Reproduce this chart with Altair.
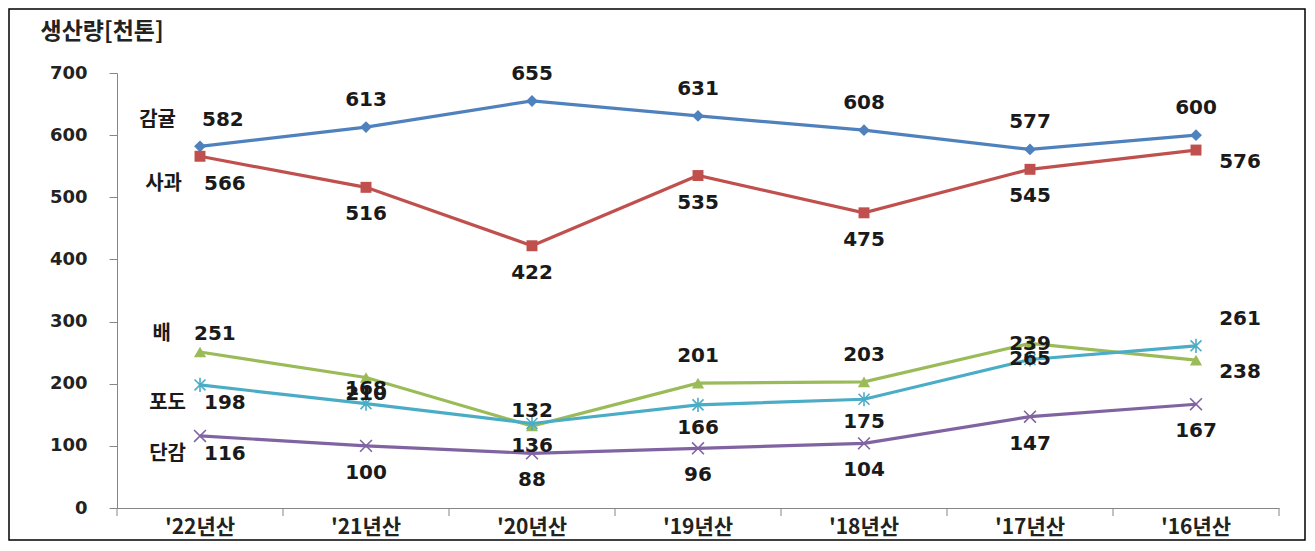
import altair as alt
import pandas as pd

cats = ["'22년산", "'21년산", "'20년산", "'19년산", "'18년산", "'17년산", "'16년산"]
series = ["감귤", "사과", "배", "포도", "단감"]
v_gam = [582, 613, 655, 631, 608, 577, 600]
v_sa = [566, 516, 422, 535, 475, 545, 576]
v_bae = [251, 210, 132, 201, 203, 265, 238]
v_podo = [198, 168, 136, 166, 175, 239, 261]
v_dan = [116, 100, 88, 96, 104, 147, 167]
values = [v_gam, v_sa, v_bae, v_podo, v_dan]
y_ticks = [0, 100, 200, 300, 400, 500, 600, 700]

# label placement codes per point
place = [
    ["FU", "U", "U", "U", "U", "U", "U"],
    ["FD", "D", "D", "D", "D", "D", "RD"],
    ["Fu", "d", "u", "U", "U", "d", "RD"],
    ["Fd", "u", "dd", "dd", "dd", "u", "RU"],
    ["Fd", "D", "D", "D", "D", "D", "D"],
]
colors = ["#4F81BD", "#C0504D", "#9BBB59", "#4BACC6", "#8064A2"]

# code: (dx, dy, align, name_dx)
OFF = {
    "U": (0, -27, "center", 0),
    "D": (0, 27, "center", 0),
    "u": (0, -15, "center", 0),
    "d": (0, 16, "center", 0),
    "dd": (0, 23, "center", 0),
    "RD": (44, 12, "center", 0),
    "RU": (44, -27, "center", 0),
    "FU": (2, -26, "left", -24),
    "FD": (4, 28, "left", -18),
    "Fu": (-6, -18, "left", -29),
    "Fd": (4, 18, "left", -14),
}

rows = []
for s, vals, pl in zip(series, values, place):
    for c, v, p in zip(cats, vals, pl):
        rows.append({"series": s, "cat": c, "value": v, "code": p, "label": str(v)})
df = pd.DataFrame(rows)
tick_df = pd.DataFrame({"cat": cats})

W, H = 1162, 435
GRAY = "#868686"
NUMFONT = "DejaVu Sans, Noto Sans CJK KR"
KFONT = "Noto Sans CJK KR"

xscale = alt.Scale(type="band", domain=cats, paddingInner=0, paddingOuter=0)
yscale = alt.Scale(domain=[0, 700], nice=False)
x_axis = alt.Axis(ticks=False, domainColor=GRAY, labelFont=KFONT, labelFontSize=21,
                  labelFontWeight="bold", labelPadding=8, labelAngle=0, grid=False,
                  labelColor="#222222", title=None)
y_axis = alt.Axis(values=y_ticks, tickSize=8, tickColor=GRAY, domainColor=GRAY,
                  labelPadding=22, labelFont=NUMFONT, labelFontSize=18,
                  labelFontWeight="bold", labelColor="#222222", grid=False,
                  title="생산량[천톤]", titleAngle=0, titleAlign="left",
                  titleBaseline="middle", titleX=-77, titleY=-42, titleFont=KFONT,
                  titleFontSize=23, titleFontWeight="bold", titleColor="#222222")

X = alt.X("cat:N", sort=cats, scale=xscale, axis=x_axis)
Y = alt.Y("value:Q", scale=yscale, axis=y_axis)

layers = []
# frame
layers.append(
    alt.Chart(pd.DataFrame({"a": [0]})).mark_rect(filled=False, stroke="black", strokeWidth=1.5)
    .encode(x=alt.value(-108), x2=alt.value(1188), y=alt.value(-64), y2=alt.value(467))
)
# x ticks at band edges
layers.append(
    alt.Chart(tick_df).mark_rule(color=GRAY, strokeWidth=1)
    .encode(x=alt.X("cat:N", sort=cats, scale=xscale, axis=x_axis, bandPosition=0),
            y=alt.value(H), y2=alt.value(H + 8))
)
layers.append(
    alt.Chart(pd.DataFrame({"a": [0]})).mark_rule(color=GRAY, strokeWidth=1)
    .encode(x=alt.value(W), y=alt.value(H), y2=alt.value(H + 8))
)

shapes = ["diamond", "square", "triangle-up",
          "M-1,-1L1,1M-1,1L1,-1M0,-1.3L0,1.3",
          "M-1,-1L1,1M-1,1L1,-1"]
sizes = [140, 120, 150, 120, 140]
filled = [True, True, True, False, False]

for s, col, shp, sz, fl in zip(series, colors, shapes, sizes, filled):
    base = alt.Chart(df).transform_filter(alt.datum.series == s)
    layers.append(base.mark_line(color=col, strokeWidth=3.2).encode(x=X, y=Y))
    if fl:
        pt = base.mark_point(shape=shp, size=sz, filled=True, color=col, opacity=1)
    else:
        pt = base.mark_point(shape=shp, size=sz, filled=False, color=col, strokeWidth=1.6, opacity=1)
    layers.append(pt.encode(x=X, y=Y))

for code, (dx, dy, al, ndx) in OFF.items():
    base = alt.Chart(df).transform_filter(alt.datum.code == code)
    layers.append(
        base.mark_text(dx=dx, dy=dy, align=al, baseline="middle", font=NUMFONT,
                       fontSize=20, fontWeight="bold", color="#1a1a1a")
        .encode(x=X, y=Y, text="label:N")
    )
    if code.startswith("F"):
        layers.append(
            base.mark_text(dx=ndx, dy=dy, align="right", baseline="middle", font=KFONT,
                           fontSize=20, fontWeight="bold", color="#1a1a1a")
            .encode(x=X, y=Y, text="series:N")
        )

chart = alt.layer(*layers).properties(width=W, height=H, padding=0).configure(
    background="white", view=alt.ViewConfig(stroke=None))
chart.save("out.html", embed_options={"renderer": "svg", "actions": False})
